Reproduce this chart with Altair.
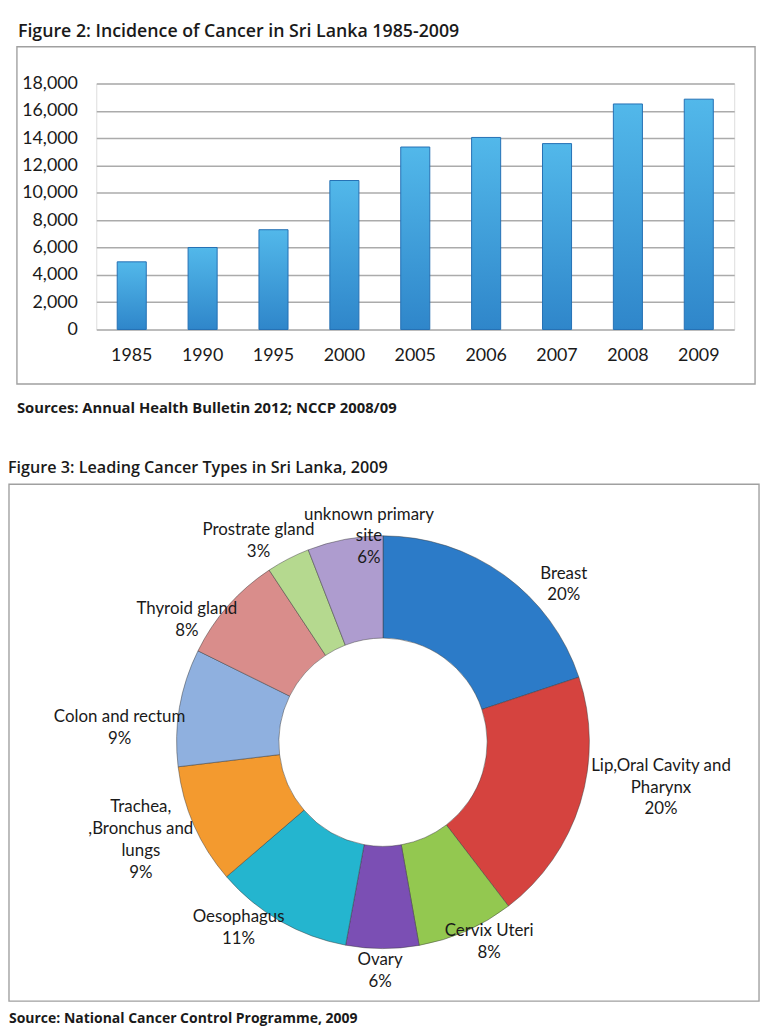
import altair as alt
import pandas as pd

# ---------------- data ----------------
years = ["1985", "1990", "1995", "2000", "2005", "2006", "2007", "2008", "2009"]
cases = [4950, 6000, 7300, 10900, 13350, 14050, 13600, 16500, 16850]
y_ticks = [0, 2000, 4000, 6000, 8000, 10000, 12000, 14000, 16000, 18000]

cancer_types = ["Breast", "Lip,Oral Cavity and Pharynx", "Cervix Uteri", "Ovary",
                "Oesophagus", "Trachea, ,Bronchus and lungs", "Colon and rectum",
                "Thyroid gland", "Prostrate gland", "unknown primary site"]
shares = [19.9, 19.7, 7.6, 5.7, 10.8, 9.4, 9.2, 8.4, 3.4, 5.9]
label_lines = ["Breast", "Lip,Oral Cavity and\nPharynx", "Cervix Uteri", "Ovary",
               "Oesophagus", "Trachea,\n,Bronchus and\nlungs", "Colon and rectum",
               "Thyroid gland", "Prostrate gland", "unknown primary\nsite"]

# ---------------- styling / layout ----------------
slice_colors = ["#2C7BC8", "#D5433F", "#93C850", "#7B4FB4", "#24B5CF",
                "#F39A2F", "#8FB0DF", "#D98D8B", "#B5D98F", "#AE9CCF"]
label_dtheta = [10.2, -12.8, -5.3, 1.4, 10.8, 9.5, -3.7, -7.1, -3.3, 6.4]   # degrees nudge
label_radius = [249, 278, 214, 217, 228, 255, 270, 243, 252, 233]          # px from centre

FONT = "Lato"
TFONT = "Open Sans"
TXT = "#1a1a1a"
W, H = 643, 248
CX, CY = 289, 664          # donut centre relative to bar plot origin
LX, LY = 292, 667          # label anchor origin
R_OUT, R_IN = 208, 105

bars_df = pd.DataFrame({"year": years, "cases": cases})
pie_df = pd.DataFrame({
    "type": cancer_types, "share": shares, "lines": label_lines,
    "idx": list(range(len(cancer_types))),
    "dtheta": label_dtheta, "lr": label_radius,
})
one = pd.DataFrame({"k": [0]})

bar_fill = alt.Gradient(
    gradient="linear", x1=0, x2=0, y1=0, y2=1,
    stops=[alt.GradientStop(offset=0, color="#52B8EA"),
           alt.GradientStop(offset=1, color="#2F86CA")],
)

bars = alt.Chart(bars_df).mark_bar(fill=bar_fill, stroke="#2470B4", strokeWidth=1).encode(
    x=alt.X("year:N", sort=None, title=None,
            scale=alt.Scale(paddingInner=0.59, paddingOuter=0.295),
            axis=alt.Axis(labelAngle=0, domain=False, ticks=False, grid=False,
                          labelFont=FONT, labelFontSize=18, labelColor=TXT,
                          labelPadding=17)),
    y=alt.Y("cases:Q", title=None,
            scale=alt.Scale(domain=[0, 18000], nice=False),
            axis=alt.Axis(values=y_ticks, format=",.0f", domain=False, ticks=False,
                          grid=True, gridColor="#ABABAB", gridWidth=1.5,
                          labelFont=FONT, labelFontSize=18, labelColor=TXT,
                          labelPadding=19)),
)

def frame(x1, x2, y1, y2):
    return alt.Chart(one).mark_rect(fill="transparent", stroke="#A0A0A0", strokeWidth=1.4).encode(
        x=alt.value(x1), x2=alt.value(x2), y=alt.value(y1), y2=alt.value(y2))

def note(txt, x, y, weight, size):
    return alt.Chart(pd.DataFrame({"t": [txt]})).mark_text(
        align="left", baseline="alphabetic", font=TFONT, fontSize=size,
        fontWeight=weight, color=TXT).encode(
        x=alt.value(x), y=alt.value(y), text="t:N")

frame_top = frame(-80, 664, -37, 303)
frame_bot = frame(-88, 668, 404, 925)

title2 = note("Figure 2: Incidence of Cancer in Sri Lanka 1985-2009", -79, -47, 600, 17.9)
src2 = note("Sources: Annual Health Bulletin 2012; NCCP 2008/09", -80, 332, "bold", 14.9)
title3 = note("Figure 3: Leading Cancer Types in Sri Lanka, 2009", -89, 393, 600, 16.3)
src3 = note("Source: National Cancer Control Programme, 2009", -88, 947, "bold", 14.1)

donut = alt.Chart(pie_df).mark_arc(
    innerRadius=R_IN, outerRadius=R_OUT, stroke="#3a3a3a", strokeWidth=0.8, strokeOpacity=0.6
).encode(
    theta=alt.Theta("share:Q", stack=True),
    order=alt.Order("idx:Q", sort="ascending"),
    color=alt.Color("type:N", scale=alt.Scale(domain=cancer_types, range=slice_colors), legend=None),
    x=alt.value(CX), y=alt.value(CY),
)

labels = alt.Chart(pie_df).transform_window(
    cum="sum(share)", sort=[alt.SortField("idx")]
).transform_joinaggregate(
    total="sum(share)"
).transform_calculate(
    ang="(datum.cum - datum.share / 2) / datum.total * 2 * PI + datum.dtheta * PI / 180",
    lab="datum.lines + '\\n' + format(datum.share, '.0f') + '%'",
).mark_text(
    font=FONT, fontSize=17, color=TXT, align="center", baseline="middle",
    lineBreak="\n", lineHeight=22,
).encode(
    theta=alt.Theta("ang:Q", scale=None, stack=False),
    radius=alt.Radius("lr:Q", scale=None),
    x=alt.value(LX), y=alt.value(LY),
    text="lab:N",
)

chart = alt.layer(
    frame_top, bars, title2, src2, title3, frame_bot, donut, labels, src3
).properties(
    width=W, height=H,
    autosize=alt.AutoSizeParams(type="none"),
    padding={"left": 89, "top": 72, "right": 28, "bottom": 700},
    background="white",
).configure_view(stroke=None).configure(font=FONT)

chart.save("out.html", embed_options={"renderer": "svg", "actions": False})
